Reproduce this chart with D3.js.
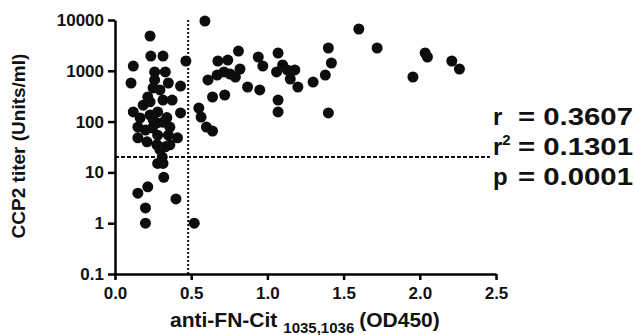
<!DOCTYPE html>
<html>
<head>
<meta charset="utf-8">
<script src="https://cdn.jsdelivr.net/npm/d3@7/dist/d3.min.js"></script>
<style>
  body { margin: 0; background: #fff; }
  svg { display: block; font-family: "Liberation Sans", Arial, sans-serif; font-weight: bold; }
</style>
</head>
<body>
<div id="chart"></div>
<script>
// anti-FN-Cit OD450 values (x) and CCP2 titer in Units/ml (y)
const odValues = [
  0.23, 0.235, 0.315, 0.12, 0.465, 0.26, 0.33, 0.105, 0.26, 0.35,
  0.43, 0.25, 0.215, 0.315, 0.23, 0.12, 0.165, 0.28, 0.43, 0.275,
  0.15, 0.36, 0.28, 0.35, 0.41, 0.15, 0.21, 0.275, 0.33, 0.31,
  0.28, 0.315, 0.32, 0.15, 0.215, 0.40, 0.20, 0.20, 0.52, 0.23,
  0.20, 0.315, 0.245, 0.36, 0.185, 0.295, 0.375, 0.295, 0.25, 0.34,
  0.59, 0.81, 0.675, 0.74, 0.82, 0.94, 0.97, 1.07, 1.10, 1.13,
  1.18, 1.15, 1.20, 1.06, 0.715, 0.755, 0.79, 0.67, 0.61, 0.87,
  0.95, 0.64, 0.72, 1.07, 1.07, 0.55, 0.565, 0.60, 0.64, 1.30,
  1.38, 1.40, 1.42, 1.40, 1.60, 1.72, 1.955, 2.035, 2.05, 2.21,
  2.26
];
const titerValues = [
  4840, 1950, 1950, 1240, 1560, 950, 950, 575, 660, 575,
  500, 460, 305, 265, 245, 155, 118, 155, 148, 94,
  78, 78, 54, 54, 48, 48, 40, 35, 32, 20,
  15, 15, 8, 3.9, 5.2, 3, 2, 1, 1, 135,
  68, 97, 75, 35, 210, 420, 265, 28, 110, 120,
  9550, 2450, 1560, 1630, 1085, 1870, 1240, 2240, 1300, 1040,
  1040, 690, 480, 950, 950, 865, 755, 826, 660, 480,
  420, 305, 334, 266, 155, 185, 123, 78, 65, 600,
  826, 2810, 1425, 148, 6650, 2810, 755, 2240, 1870, 1560,
  1085
];

const xTicks = [0, 0.5, 1.0, 1.5, 2.0, 2.5];
const yTicks = [0.1, 1, 10, 100, 1000, 10000];
const yTickLabels = ["0.1", "1", "10", "100", "1000", "10000"];

const cutoffOD = 0.48;
const cutoffTiter = 20;

const statNames = ["r", "r", "p"];
const statValues = ["0.3607", "0.1301", "0.0001"];

const width = 634, height = 335;

const svg = d3.select("#chart").append("svg")
  .attr("width", width)
  .attr("height", height);

const x = d3.scaleLinear().domain([0, 2.5]).range([115, 496]);
const y = d3.scaleLog().domain([0.1, 10000]).range([274, 20]);

// cut-off lines
svg.append("line")
  .attr("x1", x(cutoffOD)).attr("x2", x(cutoffOD))
  .attr("y1", y(10000)).attr("y2", y(0.1))
  .attr("stroke", "#111")
  .attr("stroke-width", 2)
  .attr("stroke-dasharray", "2,2");

svg.append("line")
  .attr("x1", x(0)).attr("x2", x(2.46))
  .attr("y1", y(cutoffTiter)).attr("y2", y(cutoffTiter))
  .attr("stroke", "#111")
  .attr("stroke-width", 2)
  .attr("stroke-dasharray", "4,2");

// points
svg.append("g")
  .selectAll("circle")
  .data(odValues.map((v, i) => [v, titerValues[i]]))
  .join("circle")
  .attr("cx", d => x(d[0]))
  .attr("cy", d => y(d[1]))
  .attr("r", 5.5)
  .attr("fill", "#0d0d0d");

// axes
const xAxis = svg.append("g")
  .attr("transform", "translate(0," + y(0.1) + ")")
  .call(d3.axisBottom(x)
    .tickValues(xTicks)
    .tickFormat(d3.format(".1f"))
    .tickSize(6)
    .tickSizeOuter(0)
    .tickPadding(7));

const yAxis = svg.append("g")
  .attr("transform", "translate(" + x(0) + ",0)")
  .call(d3.axisLeft(y)
    .tickValues(yTicks)
    .tickFormat((d, i) => yTickLabels[i])
    .tickSize(7)
    .tickSizeOuter(0)
    .tickPadding(4));

[xAxis, yAxis].forEach(a => {
  a.select(".domain").attr("stroke", "#000").attr("stroke-width", 2.5);
  a.selectAll(".tick line").attr("stroke", "#000").attr("stroke-width", 2.5);
  a.selectAll(".tick text")
    .attr("fill", "#111")
    .style("font-size", "17px")
    .style("font-weight", "bold");
});

// axis titles
svg.append("text")
  .attr("transform", "translate(25,146) rotate(-90)")
  .attr("text-anchor", "middle")
  .attr("fill", "#111")
  .style("font-size", "19px")
  .text("CCP2 titer (Units/ml)");

const xTitle = svg.append("text")
  .attr("x", 170)
  .attr("y", 327)
  .attr("fill", "#111")
  .style("font-size", "21px");
xTitle.append("tspan").text("anti-FN-Cit");
xTitle.append("tspan")
  .attr("dx", 6)
  .attr("dy", 6)
  .style("font-size", "15px")
  .text("1035,1036");
xTitle.append("tspan")
  .attr("dx", 5)
  .attr("dy", -6)
  .text("(OD450)");

// statistics
const stats = svg.append("g");
statValues.forEach((v, i) => {
  const base = 125 + i * 30;
  const name = stats.append("text")
    .attr("x", 493)
    .attr("y", base)
    .attr("fill", "#111")
    .style("font-size", "24px")
    .text(statNames[i]);
  if (i === 1) {
    name.append("tspan")
      .attr("dy", -10)
      .style("font-size", "15px")
      .text("2");
  }
  stats.append("text")
    .attr("x", 518)
    .attr("y", base)
    .attr("fill", "#111")
    .attr("textLength", 115)
    .attr("lengthAdjust", "spacingAndGlyphs")
    .style("font-size", "24px")
    .text("= " + v);
});
</script>
</body>
</html>
